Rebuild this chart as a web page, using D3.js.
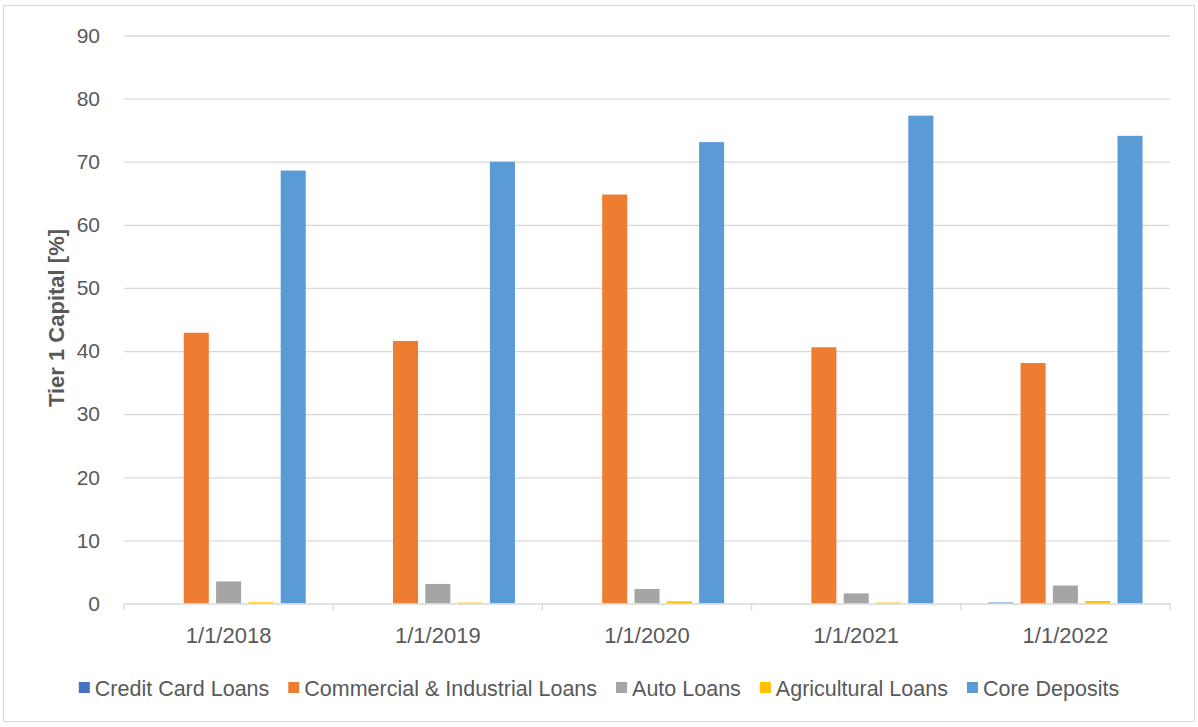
<!DOCTYPE html>
<html>
<head>
<meta charset="utf-8">
<script src="https://cdn.jsdelivr.net/npm/d3@7"></script>
<style>
  html, body { margin: 0; padding: 0; background: #fff; }
  svg { display: block; }
  text { font-family: "Liberation Sans", Arial, sans-serif; fill: #595959; }
</style>
</head>
<body>
<svg id="chart" width="1198" height="727"></svg>
<script>
// Category dates and per-series values (Tier 1 Capital, %)
const categories = ["1/1/2018", "1/1/2019", "1/1/2020", "1/1/2021", "1/1/2022"];
const seriesNames = ["Credit Card Loans", "Commercial & Industrial Loans", "Auto Loans", "Agricultural Loans", "Core Deposits"];
const creditCardLoans = [0, 0, 0, 0, 0.15];
const commercialIndustrialLoans = [42.9, 41.6, 64.8, 40.6, 38.1];
const autoLoans = [3.5, 3.1, 2.3, 1.6, 2.85];
const agriculturalLoans = [0.2, 0.15, 0.35, 0.15, 0.4];
const coreDeposits = [68.6, 70.0, 73.1, 77.3, 74.1];
const yTicks = [0, 10, 20, 30, 40, 50, 60, 70, 80, 90];
const seriesColors = ["#4472C4", "#ED7D31", "#A5A5A5", "#FFC000", "#5B9BD5"];

const seriesValues = [creditCardLoans, commercialIndustrialLoans, autoLoans, agriculturalLoans, coreDeposits];
const rows = categories.map((c, i) => ({
  category: c,
  values: seriesNames.map((s, j) => ({ series: s, value: seriesValues[j][i] }))
}));

const svg = d3.select("#chart");

// outer chart frame
svg.append("rect")
  .attr("x", 3.5).attr("y", 5.5).attr("width", 1191).attr("height", 716)
  .attr("fill", "#fff").attr("stroke", "#d9d9d9").attr("stroke-width", 1);

const plot = { left: 124, right: 1170, top: 35.5, bottom: 603.5 };

const x0 = d3.scaleBand().domain(categories).range([plot.left, plot.right]).paddingInner(0).paddingOuter(0);
const x1 = d3.scaleBand().domain(seriesNames).range([0, x0.bandwidth()]).paddingInner(0.225).paddingOuter(0.85);
const y = d3.scaleLinear().domain([0, 90]).range([plot.bottom, plot.top]);
const color = d3.scaleOrdinal().domain(seriesNames).range(seriesColors);

// horizontal gridlines with value labels
const yAxis = svg.append("g").attr("transform", `translate(${plot.left},0)`)
  .call(d3.axisLeft(y).tickValues(yTicks).tickSize(-(plot.right - plot.left)).tickPadding(24).tickFormat(d3.format("d")));
yAxis.select(".domain").remove();
yAxis.selectAll(".tick line").attr("stroke", "#d9d9d9").attr("stroke-width", 1.3);
yAxis.selectAll(".tick text").attr("font-size", 21).attr("fill", "#595959")
  .style("font-family", '"Liberation Sans", Arial, sans-serif');
yAxis.selectAll(".tick").filter(d => d === 0).select("line").remove();

// bars
const groups = svg.append("g").selectAll("g").data(rows).join("g")
  .attr("transform", d => `translate(${x0(d.category)},0)`);
groups.selectAll("rect").data(d => d.values).join("rect")
  .attr("x", d => x1(d.series))
  .attr("width", x1.bandwidth())
  .attr("y", d => y(d.value))
  .attr("height", d => y(0) - y(d.value))
  .attr("fill", d => color(d.series));

// category axis
const xAxis = svg.append("g").attr("transform", `translate(0,${plot.bottom})`)
  .call(d3.axisBottom(x0).tickSize(0).tickPadding(24));
xAxis.select(".domain").attr("stroke", "#d9d9d9").attr("stroke-width", 1.3);
xAxis.selectAll(".tick text").attr("font-size", 22).attr("fill", "#595959")
  .style("font-family", '"Liberation Sans", Arial, sans-serif');
// category separator ticks
const bounds = categories.map(c => x0(c)).concat([plot.right]);
svg.append("g").selectAll("line").data(bounds).join("line")
  .attr("x1", d => d).attr("x2", d => d)
  .attr("y1", plot.bottom).attr("y2", plot.bottom + 7)
  .attr("stroke", "#d9d9d9").attr("stroke-width", 1.3);

// y axis title
svg.append("text")
  .attr("transform", "translate(64,318) rotate(-90)")
  .attr("text-anchor", "middle")
  .attr("font-size", 22).attr("font-weight", "bold")
  .text("Tier 1 Capital [%]");

// legend
const legend = svg.append("g").attr("transform", "translate(0,688)");
const items = legend.selectAll("g").data(seriesNames).join("g");
items.append("rect").attr("width", 11).attr("height", 11).attr("y", -6)
  .attr("fill", d => color(d));
items.append("text").attr("x", 16).attr("dy", "0.35em").attr("font-size", 21.5).text(d => d);
const gap = 19;
let cursor = 0;
const offsets = [];
items.each(function () {
  offsets.push(cursor);
  cursor += this.getBBox().width + gap;
});
const totalWidth = cursor - gap;
const startX = (1198 - totalWidth) / 2;
items.attr("transform", (d, i) => `translate(${startX + offsets[i]},0)`);
</script>
</body>
</html>
